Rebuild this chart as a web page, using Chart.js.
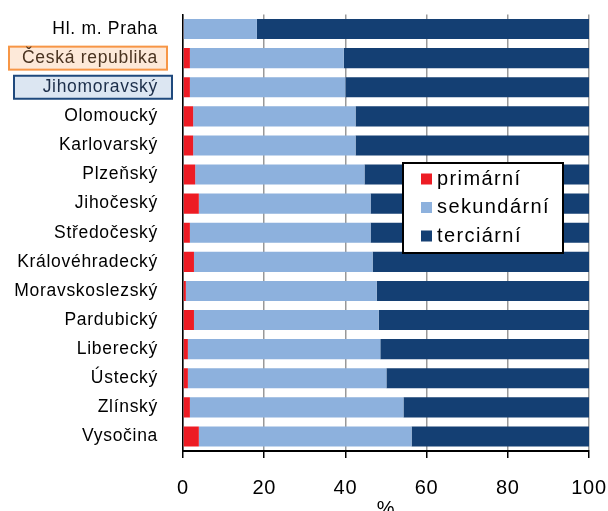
<!DOCTYPE html>
<html>
<head>
<meta charset="utf-8">
<script src="https://cdn.jsdelivr.net/npm/chart.js@4.4.1/dist/chart.umd.min.js"></script>
<style>
    html, body { margin: 0; padding: 0; background: #fff; }
    #wrap { width: 608px; height: 511px; }
</style>
</head>
<body>
<div id="wrap"><canvas id="chart" width="608" height="511"></canvas></div>
<script>
// Regions (top to bottom)
const REGIONS = ['Hl. m. Praha', 'Česká republika', 'Jihomoravský', 'Olomoucký', 'Karlovarský',
    'Plzeňský', 'Jihočeský', 'Středočeský', 'Královéhradecký', 'Moravskoslezský',
    'Pardubický', 'Liberecký', 'Ústecký', 'Zlínský', 'Vysočina'];

// Sector shares, %
const PRIMARY   = [0.2, 1.7, 1.7, 2.5, 2.5, 3.0, 3.9, 1.7, 2.7, 0.7, 2.7, 1.2, 1.2, 1.7, 3.9];
const SECONDARY = [18.0, 37.9, 38.3, 40.0, 40.0, 41.7, 42.3, 44.5, 44.0, 47.0, 45.5, 47.4, 48.9, 52.6, 52.4];
const TERTIARY  = [81.8, 60.4, 60.0, 57.5, 57.5, 55.3, 53.8, 53.8, 53.3, 52.3, 51.8, 51.4, 49.9, 45.7, 43.7];

const X_TICKS = [0, 20, 40, 60, 80, 100];

const COLORS = {
    primary: '#ed1c24',
    secondary: '#8db1dd',
    tertiary: '#143f73'
};

// highlighted labels: index -> box style
const HIGHLIGHT = {
    1: { fill: '#fde9d9', stroke: '#f79646', text: '#4a3320', left: 9, right: 167 },
    2: { fill: '#dce6f2', stroke: '#1f497d', text: '#1c2e4a', left: 14, right: 172 }
};

const FONT = "'Liberation Sans', Arial, sans-serif";

// boxes behind the two highlighted labels
const labelBoxes = {
    id: 'labelBoxes',
    beforeDraw(chart) {
        const ctx = chart.ctx;
        const y = chart.scales.y;
        ctx.save();
        Object.keys(HIGHLIGHT).forEach(idx => {
            const h = HIGHLIGHT[idx];
            const cy = y.getPixelForValue(Number(idx));
            ctx.fillStyle = h.fill;
            ctx.strokeStyle = h.stroke;
            ctx.lineWidth = 2;
            ctx.fillRect(h.left, cy - 11.5, h.right - h.left, 23);
            ctx.strokeRect(h.left, cy - 11.5, h.right - h.left, 23);
        });
        ctx.restore();
        ctx.letterSpacing = '0.7px';
    }
};

// legend box inside the plot
const boxLegend = {
    id: 'boxLegend',
    afterDraw(chart) {
        const ctx = chart.ctx;
        const x0 = 403, y0 = 163, w = 160, h = 90;
        ctx.save();
        ctx.fillStyle = '#fff';
        ctx.fillRect(x0, y0, w, h);
        ctx.strokeStyle = '#000';
        ctx.lineWidth = 2;
        ctx.strokeRect(x0, y0, w, h);
        ctx.font = '20px ' + FONT;
        ctx.letterSpacing = '1.4px';
        ctx.textBaseline = 'middle';
        chart.data.datasets.forEach((ds, i) => {
            const cy = y0 + 16 + i * 28.5;
            ctx.fillStyle = ds.backgroundColor;
            ctx.fillRect(x0 + 18, cy - 5.5, 11, 11);
            ctx.fillStyle = '#000';
            ctx.fillText(ds.label, x0 + 34, cy);
        });
        ctx.restore();
    }
};

new Chart(document.getElementById('chart'), {
    type: 'bar',
    data: {
        labels: REGIONS,
        datasets: [
            { label: 'primární', data: PRIMARY, backgroundColor: COLORS.primary },
            { label: 'sekundární', data: SECONDARY, backgroundColor: COLORS.secondary },
            { label: 'terciární', data: TERTIARY, backgroundColor: COLORS.tertiary }
        ]
    },
    options: {
        indexAxis: 'y',
        responsive: false,
        devicePixelRatio: 1,
        animation: false,
        categoryPercentage: 1,
        barPercentage: 0.69,
        layout: { padding: { top: 14.5, right: 19, bottom: 0, left: 0 } },
        plugins: {
            legend: { display: false },
            tooltip: { enabled: false }
        },
        scales: {
            x: {
                stacked: true,
                min: 0,
                max: 100,
                afterBuildTicks: scale => {
                    scale.ticks = X_TICKS.map(v => ({ value: v }));
                },
                afterFit: scale => {
                    scale.height = 60;
                    scale.paddingLeft = 0;
                    scale.paddingRight = 0;
                },
                grid: {
                    color: '#999',
                    lineWidth: 1.5,
                    borderDash: [6, 4],
                    drawTicks: true,
                    tickLength: 7,
                    tickColor: '#000',
                    tickBorderDash: [],
                    tickWidth: 1.5
                },
                border: { display: true, color: '#000', width: 2 },
                ticks: {
                    color: '#000',
                    padding: 18,
                    font: { family: FONT, size: 20 }
                },
                title: {
                    display: true,
                    text: '%',
                    color: '#000',
                    padding: { top: 0, bottom: -10 },
                    font: { family: FONT, size: 20 }
                }
            },
            y: {
                stacked: true,
                afterFit: scale => {
                    scale.width = 183;
                    scale.paddingTop = 0;
                    scale.paddingBottom = 0;
                },
                grid: { display: false, drawTicks: false },
                border: { display: true, color: '#000', width: 1.5 },
                ticks: {
                    padding: 25,
                    color: ctx => (HIGHLIGHT[ctx.index] ? HIGHLIGHT[ctx.index].text : '#000'),
                    font: { family: FONT, size: 17.5 }
                }
            }
        }
    },
    plugins: [labelBoxes, boxLegend]
});
</script>
</body>
</html>
